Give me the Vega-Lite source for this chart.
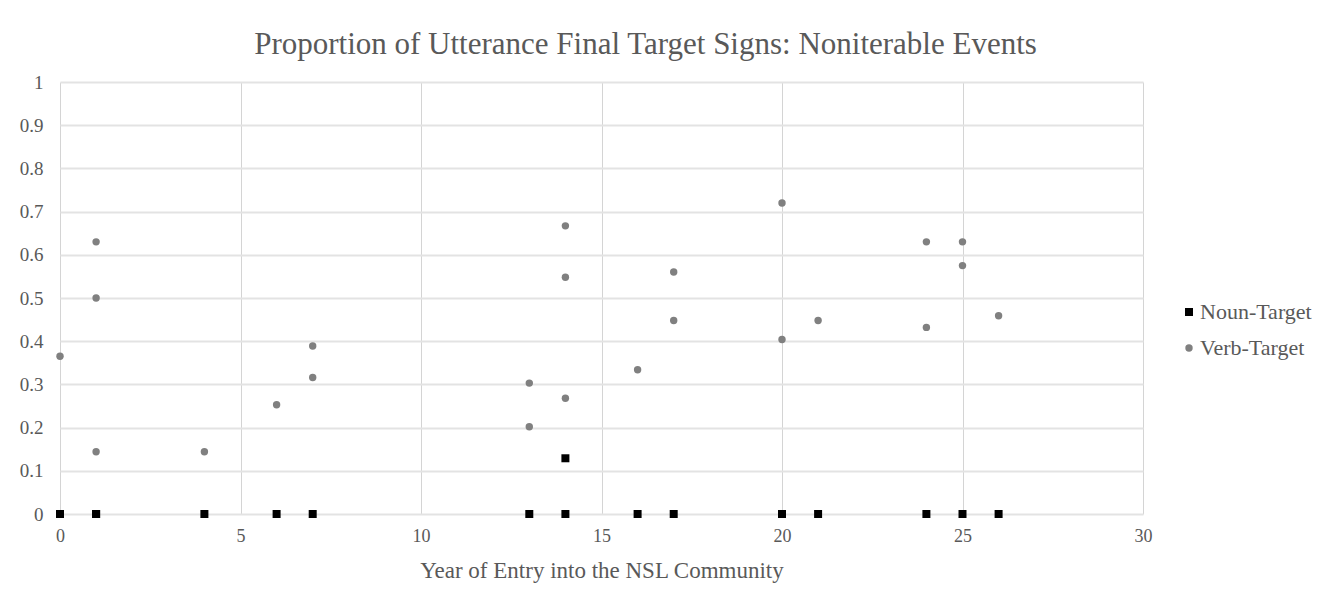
{
  "$schema": "https://vega.github.io/schema/vega-lite/v6.json",
  "autosize": {"type": "none"},
  "width": 1083,
  "height": 432,
  "padding": {"left": 60, "top": 82, "right": 199, "bottom": 83},
  "background": "white",
  "title": {
    "text": "Proportion of Utterance Final Target Signs: Noniterable Events",
    "font": "Liberation Serif",
    "fontSize": 31,
    "fontWeight": "normal",
    "color": "#595959",
    "anchor": "middle",
    "dx": 44,
    "offset": 12
  },
  "data": {
    "values": [
      {"year": 0, "proportion": 0, "series": "Noun-Target"},
      {"year": 1, "proportion": 0, "series": "Noun-Target"},
      {"year": 1, "proportion": 0, "series": "Noun-Target"},
      {"year": 4, "proportion": 0, "series": "Noun-Target"},
      {"year": 6, "proportion": 0, "series": "Noun-Target"},
      {"year": 7, "proportion": 0, "series": "Noun-Target"},
      {"year": 13, "proportion": 0, "series": "Noun-Target"},
      {"year": 14, "proportion": 0, "series": "Noun-Target"},
      {"year": 14, "proportion": 0.129, "series": "Noun-Target"},
      {"year": 16, "proportion": 0, "series": "Noun-Target"},
      {"year": 17, "proportion": 0, "series": "Noun-Target"},
      {"year": 20, "proportion": 0, "series": "Noun-Target"},
      {"year": 21, "proportion": 0, "series": "Noun-Target"},
      {"year": 24, "proportion": 0, "series": "Noun-Target"},
      {"year": 25, "proportion": 0, "series": "Noun-Target"},
      {"year": 26, "proportion": 0, "series": "Noun-Target"},
      {"year": 0, "proportion": 0.365, "series": "Verb-Target"},
      {"year": 1, "proportion": 0.63, "series": "Verb-Target"},
      {"year": 1, "proportion": 0.5, "series": "Verb-Target"},
      {"year": 1, "proportion": 0.144, "series": "Verb-Target"},
      {"year": 4, "proportion": 0.144, "series": "Verb-Target"},
      {"year": 6, "proportion": 0.253, "series": "Verb-Target"},
      {"year": 7, "proportion": 0.389, "series": "Verb-Target"},
      {"year": 7, "proportion": 0.316, "series": "Verb-Target"},
      {"year": 13, "proportion": 0.303, "series": "Verb-Target"},
      {"year": 13, "proportion": 0.202, "series": "Verb-Target"},
      {"year": 14, "proportion": 0.667, "series": "Verb-Target"},
      {"year": 14, "proportion": 0.548, "series": "Verb-Target"},
      {"year": 14, "proportion": 0.268, "series": "Verb-Target"},
      {"year": 16, "proportion": 0.334, "series": "Verb-Target"},
      {"year": 17, "proportion": 0.56, "series": "Verb-Target"},
      {"year": 17, "proportion": 0.448, "series": "Verb-Target"},
      {"year": 20, "proportion": 0.72, "series": "Verb-Target"},
      {"year": 20, "proportion": 0.404, "series": "Verb-Target"},
      {"year": 21, "proportion": 0.448, "series": "Verb-Target"},
      {"year": 24, "proportion": 0.63, "series": "Verb-Target"},
      {"year": 24, "proportion": 0.432, "series": "Verb-Target"},
      {"year": 25, "proportion": 0.63, "series": "Verb-Target"},
      {"year": 25, "proportion": 0.575, "series": "Verb-Target"},
      {"year": 26, "proportion": 0.459, "series": "Verb-Target"}
    ]
  },
  "mark": {"type": "point", "filled": true, "opacity": 1},
  "encoding": {
    "x": {
      "field": "year",
      "type": "quantitative",
      "scale": {"domain": [0, 30], "nice": false, "zero": false},
      "axis": {
        "title": "Year of Entry into the NSL Community",
        "values": [0, 5, 10, 15, 20, 25, 30],
        "grid": true,
        "gridColor": "#d4d4d4",
        "gridWidth": 1,
        "domain": false,
        "ticks": false,
        "labelFlush": false,
        "labelFont": "Liberation Serif",
        "labelFontSize": 18,
        "labelColor": "#595959",
        "labelPadding": 13,
        "titleFont": "Liberation Serif",
        "titleFontSize": 23,
        "titleFontWeight": "normal",
        "titleColor": "#595959",
        "titlePadding": 14
      }
    },
    "y": {
      "field": "proportion",
      "type": "quantitative",
      "scale": {"domain": [0, 1], "nice": false},
      "axis": {
        "title": null,
        "values": [0, 0.1, 0.2, 0.3, 0.4, 0.5, 0.6, 0.7, 0.8, 0.9, 1],
        "format": "~g",
        "grid": true,
        "gridColor": "#e3e3e3",
        "gridWidth": 2,
        "domain": false,
        "ticks": false,
        "labelFlush": false,
        "labelFont": "Liberation Serif",
        "labelFontSize": 19,
        "labelColor": "#595959",
        "labelPadding": 17
      }
    },
    "color": {
      "field": "series",
      "type": "nominal",
      "scale": {"domain": ["Noun-Target", "Verb-Target"], "range": ["#000000", "#808080"]},
      "legend": {
        "title": null,
        "orient": "none",
        "legendX": 1118,
        "legendY": 219,
        "labelFont": "Liberation Serif",
        "labelFontSize": 22,
        "labelColor": "#595959",
        "symbolSize": 50,
        "rowPadding": 14,
        "labelOffset": 0
      }
    },
    "shape": {
      "field": "series",
      "type": "nominal",
      "scale": {"domain": ["Noun-Target", "Verb-Target"], "range": ["square", "circle"]},
      "legend": null
    },
    "size": {
      "field": "series",
      "type": "nominal",
      "scale": {"domain": ["Noun-Target", "Verb-Target"], "range": [64, 55]},
      "legend": null
    }
  },
  "config": {
    "view": {"stroke": null}
  }
}
